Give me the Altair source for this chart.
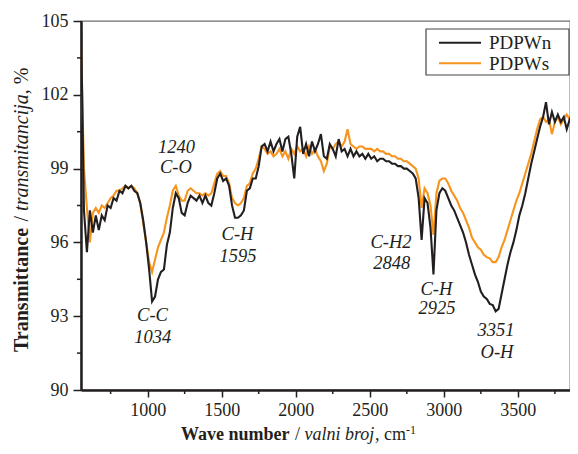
import altair as alt
import pandas as pd

# ---------------- data ----------------
wavenumber = list(range(550, 3900, 20))  # sampling grid, cm-1

pdpwn = [
    105.0, 97.3, 95.6, 97.3, 96.4, 97.1, 96.5, 97.1, 96.9, 97.5,
    97.4, 97.8, 97.7, 98.1, 98.0, 98.3, 98.2, 98.3, 98.1, 98.0,
    97.6, 96.9, 96.0, 94.9, 93.6, 93.8, 94.5, 94.8, 94.9, 95.9,
    96.4, 97.4, 98.0, 97.8, 97.2, 97.1, 97.6, 97.9, 97.8, 97.7,
    97.9, 97.6, 97.9, 97.6, 97.5, 98.0, 98.6, 98.8, 98.5, 98.6,
    98.3, 97.5, 97.0, 97.0, 97.1, 97.3, 98.1, 98.2, 98.6, 98.6,
    99.1, 99.9, 100.0, 99.7, 100.1, 99.7, 100.0, 100.2, 99.7, 100.2,
    100.3, 99.6, 98.6, 100.3, 100.7, 99.6, 100.0, 99.5, 100.1, 99.7,
    100.0, 100.4, 99.5, 99.4, 100.0, 99.8, 99.5, 100.2, 99.7, 99.8,
    99.5, 99.8, 99.5, 99.7, 99.5, 99.6, 99.4, 99.6, 99.4, 99.5,
    99.3, 99.4, 99.4, 99.3, 99.3, 99.2, 99.2, 99.1, 99.1, 99.0,
    99.0, 98.9, 98.8, 98.6, 97.8, 96.1, 97.8, 97.6, 96.6, 94.7,
    97.3, 98.0, 98.2, 98.1, 97.8, 97.5, 97.3, 97.0, 96.7, 96.4,
    96.0, 95.5, 95.1, 94.7, 94.4, 94.0, 93.8, 93.7, 93.5, 93.45,
    93.2, 93.3, 93.9, 94.5, 95.1, 95.6, 96.0, 96.5, 97.1, 97.5,
    98.0, 98.6, 99.2, 99.7, 100.2, 100.7, 101.1, 101.7, 100.8, 101.3,
    100.9, 101.2, 100.9, 101.1, 100.6, 101.0, 100.8, 101.1,
]

pdpws = [
    104.1, 99.0, 97.4, 96.0, 97.2, 97.4, 97.2, 97.5, 97.4, 97.6,
    97.8, 97.9, 98.1, 98.1, 98.2, 98.3, 98.2, 98.3, 98.2, 98.0,
    97.6, 96.8, 96.0, 95.2, 94.8, 95.3, 95.8, 96.1, 96.4, 97.0,
    97.5, 98.1, 98.3, 97.9, 97.7, 97.7, 98.1, 98.2, 98.1, 98.0,
    98.0, 97.9, 98.0, 97.9, 98.0, 98.4, 98.8, 98.9, 98.7, 98.7,
    98.4, 97.8, 97.6, 97.5, 97.6, 97.8, 98.3, 98.4, 98.8, 99.0,
    99.4, 99.9, 99.8, 99.6, 99.7, 99.5, 99.6, 99.8, 99.5, 99.7,
    99.4, 99.8, 99.6, 99.9, 99.7, 99.8, 99.5, 99.9, 99.6, 99.8,
    99.5, 99.3, 98.9, 99.2, 99.9, 99.8, 100.0, 100.1, 99.9, 100.1,
    100.6, 100.0, 99.9, 99.8, 99.9, 99.9, 99.8, 99.8, 99.8, 99.7,
    99.8, 99.7, 99.7, 99.6, 99.6, 99.5, 99.5, 99.4, 99.4, 99.3,
    99.3, 99.2, 99.1, 99.0, 98.6, 97.4, 98.2, 98.0, 97.5, 96.3,
    98.0, 98.5, 98.6, 98.6, 98.4, 98.1, 97.9, 97.7, 97.4, 97.2,
    96.9, 96.6, 96.2, 96.0, 95.8, 95.7, 95.5, 95.4, 95.35, 95.2,
    95.2, 95.4, 95.8, 96.1, 96.5, 96.9, 97.3, 97.7, 98.0, 98.4,
    98.8, 99.2, 99.6, 100.1, 100.6, 101.0, 101.1, 100.9, 101.0, 100.4,
    100.9, 101.1, 100.8, 101.0, 101.2, 101.0, 101.3, 101.4,
]

series_names = ["PDPWn", "PDPWs"]
series_colors = ["#231F20", "#F7941D"]

x_major = [1000, 1500, 2000, 2500, 3000, 3500]
x_minor = [750, 1250, 1750, 2250, 2750, 3250, 3750]
y_major = [90, 93, 96, 99, 102, 105]
y_minor = [91.5, 94.5, 97.5, 100.5, 103.5]

ann_text = ["1240", "C-O", "C-H", "1595", "C-C", "1034",
            "C-H2", "2848", "C-H", "2925", "3351", "O-H"]
ann_wn = [1195, 1191, 1607, 1610, 1033, 1034, 2643, 2648, 2950, 2954, 3352, 3359]
ann_t = [99.62, 98.82, 96.10, 95.22, 92.79, 91.90, 95.76, 94.90, 93.86, 93.07, 92.18, 91.32]

# ---------------- chart ----------------
W, H = 489, 369
FONT = "Liberation Serif"
INK = "#231F20"

df = pd.DataFrame({
    "wn": wavenumber * 2,
    "t": pdpwn + pdpws,
    "series": [series_names[0]] * len(wavenumber) + [series_names[1]] * len(wavenumber),
})

x_scale = alt.Scale(domain=[550, 3852], nice=False, zero=False)
y_scale = alt.Scale(domain=[90, 105], nice=False, zero=False)
color_scale = alt.Scale(domain=series_names, range=series_colors)

x_axis = alt.Axis(values=x_major, format="d", title=None, tickSize=7, labelPadding=4,
                  labelFlush=False, grid=False)
y_axis = alt.Axis(values=y_major, format="d", title=None, tickSize=8, labelPadding=5,
                  labelFlush=False, grid=False)


def line_layer(name):
    return alt.Chart(df).transform_filter(alt.datum.series == name).mark_line(
        strokeWidth=2.1, clip=True
    ).encode(
        x=alt.X("wn:Q", scale=x_scale, axis=x_axis),
        y=alt.Y("t:Q", scale=y_scale, axis=y_axis),
        color=alt.Color("series:N", scale=color_scale, legend=None),
    )


layers = [line_layer(series_names[1]), line_layer(series_names[0])]

# minor ticks
layers.append(
    alt.Chart(pd.DataFrame({"v": x_minor})).mark_rule(color=INK, strokeWidth=1.5).encode(
        x=alt.X("v:Q", scale=x_scale, axis=x_axis), y=alt.value(H), y2=alt.value(H + 4)
    )
)
layers.append(
    alt.Chart(pd.DataFrame({"v": y_minor})).mark_rule(color=INK, strokeWidth=1.5).encode(
        y=alt.Y("v:Q", scale=y_scale, axis=y_axis), x=alt.value(-4), x2=alt.value(0)
    )
)

# annotations
ann_df = pd.DataFrame({"label": ann_text, "wn": ann_wn, "t": ann_t})
layers.append(
    alt.Chart(ann_df).mark_text(font=FONT, fontStyle="italic", fontSize=18.5, color=INK,
                                align="center", baseline="alphabetic").encode(
        x=alt.X("wn:Q", scale=x_scale, axis=x_axis),
        y=alt.Y("t:Q", scale=y_scale, axis=y_axis),
        text="label:N",
    )
)

one = pd.DataFrame({"k": [0]})

# legend (manual)
layers.append(
    alt.Chart(one).mark_rect(fill="white", stroke="#444444", strokeWidth=1.2).encode(
        x=alt.value(345), x2=alt.value(488), y=alt.value(8), y2=alt.value(54)
    )
)
for i, (nm, col) in enumerate(zip(series_names, series_colors)):
    ly = 21.7 + i * 20.6
    layers.append(
        alt.Chart(one).mark_rule(color=col, strokeWidth=2).encode(
            x=alt.value(358), x2=alt.value(400), y=alt.value(ly)
        )
    )
    layers.append(
        alt.Chart(one).mark_text(font=FONT, fontSize=19, color=INK, align="left",
                                 baseline="alphabetic").encode(
            x=alt.value(408), y=alt.value(ly + 6.5), text=alt.value(nm)
        )
    )

# x-axis title pieces
xt_y = 419.0
x_pieces = [
    ("Wave number", "bold", "normal", 18, 100.0, xt_y),
    ("/", "normal", "normal", 18, 214.0, xt_y),
    ("valni broj", "normal", "italic", 18, 223.5, xt_y),
    (", cm", "normal", "normal", 18, 294.0, xt_y),
    ("-1", "normal", "normal", 12, 325.0, xt_y - 6),
]
for txt, fw, fs, size, px, py in x_pieces:
    layers.append(
        alt.Chart(one).mark_text(font=FONT, fontSize=size, fontWeight=fw, fontStyle=fs,
                                 color=INK, align="left", baseline="alphabetic").encode(
            x=alt.value(px), y=alt.value(py), text=alt.value(txt)
        )
    )

# y-axis title pieces (rotated, reading upward)
yt_x = -52.7
y_pieces = [
    ("Transmittance", "bold", "normal", 331.0),
    ("/", "normal", "normal", 200.5),
    ("transmitancija", "normal", "italic", 189.9),
    (", %", "normal", "normal", 73.2),
]
for txt, fw, fs, py in y_pieces:
    layers.append(
        alt.Chart(one).mark_text(font=FONT, fontSize=20, fontWeight=fw, fontStyle=fs,
                                 color=INK, align="left", baseline="alphabetic", angle=270).encode(
            x=alt.value(yt_x), y=alt.value(py), text=alt.value(txt)
        )
    )

chart = alt.layer(*layers).properties(
    width=W, height=H,
    padding={"left": 73, "top": 13, "right": 0, "bottom": 56},
    autosize=alt.AutoSizeParams(type="none"),
).configure_view(
    stroke="#6d6d6d", strokeWidth=1.3
).configure_axis(
    domainColor=INK, domainWidth=2.5, tickColor=INK, tickWidth=1.5,
    labelFont=FONT, labelFontSize=18, labelColor=INK,
)

chart.save("out.html", embed_options={"renderer": "svg", "actions": False})
